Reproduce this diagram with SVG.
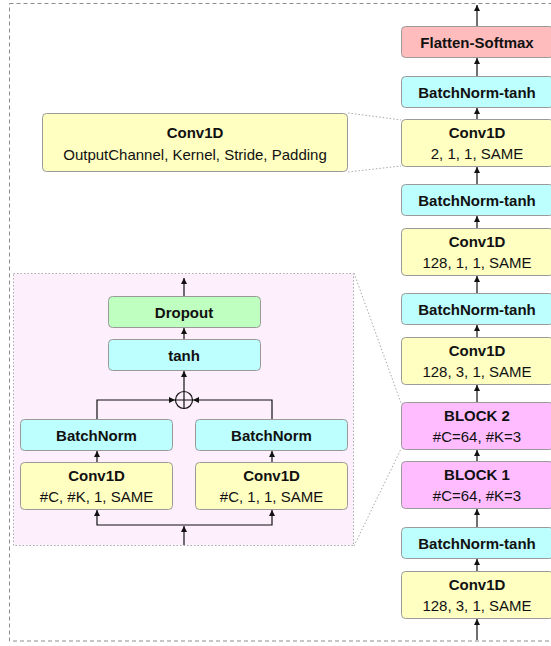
<svg xmlns="http://www.w3.org/2000/svg" width="551" height="646" viewBox="0 0 551 646">
  <style>
    .box { stroke: #9a9a9a; stroke-width: 1; }
    .conv { fill: #ffffc2; }
    .bn { fill: #bdffff; }
    .soft { fill: #ffbcbc; }
    .blk { fill: #ffbcff; }
    .drop { fill: #bfffbf; }
    .t { font-family: "Liberation Sans", Arial, sans-serif; font-size: 15px; fill: #111; text-anchor: middle; }
    .b { font-weight: bold; }
    .edge { stroke: #111; stroke-width: 1.2; fill: none; }
    .guide { stroke: #a8a8a8; stroke-width: 1; stroke-dasharray: 1.5 2; fill: none; }
  </style>
  <defs>
    <marker id="arrow" markerUnits="userSpaceOnUse" markerWidth="7" markerHeight="7" refX="6" refY="3" orient="auto">
      <path d="M0,0 L6,3 L0,6 z" fill="#111"/>
    </marker>
  </defs>

  <!-- outer frame -->
  <rect x="9.5" y="3.5" width="560" height="637.5" fill="none" stroke="#8c8c8c" stroke-width="1" stroke-dasharray="4 3"/>

  <!-- expanded block panel -->
  <g id="block-panel">
    <rect x="13.5" y="273.5" width="340" height="272" fill="#fdf0fc" stroke="#aaaaaa" stroke-width="1" stroke-dasharray="1.5 2"/>
  </g>

  <!-- guide lines from detail views to the main column -->
  <g id="guides">
    <path class="guide" d="M348,113 L401,120"/>
    <path class="guide" d="M348,172 L401,166"/>
    <path class="guide" d="M354,273 L401,403"/>
    <path class="guide" d="M354,546 L401,449"/>
  </g>

  <!-- main column -->
  <g id="flatten-softmax">
    <rect class="box soft" x="401.5" y="26.5" width="152" height="31" rx="4"/>
    <text class="t b" x="477" y="47.5">Flatten-Softmax</text>
  </g>
  <g id="bn-tanh-4">
    <rect class="box bn" x="401.5" y="76.5" width="152" height="31" rx="4"/>
    <text class="t b" x="477" y="97.5">BatchNorm-tanh</text>
  </g>
  <g id="conv-4">
    <rect class="box conv" x="401.5" y="119.5" width="152" height="47" rx="4"/>
    <text class="t b" x="477" y="138">Conv1D</text>
    <text class="t" x="477" y="159">2, 1, 1, SAME</text>
  </g>
  <g id="bn-tanh-3">
    <rect class="box bn" x="401.5" y="184.5" width="152" height="31" rx="4"/>
    <text class="t b" x="477" y="205.5">BatchNorm-tanh</text>
  </g>
  <g id="conv-3">
    <rect class="box conv" x="401.5" y="228.5" width="152" height="47" rx="4"/>
    <text class="t b" x="477" y="247">Conv1D</text>
    <text class="t" x="477" y="268">128, 1, 1, SAME</text>
  </g>
  <g id="bn-tanh-2">
    <rect class="box bn" x="401.5" y="293.5" width="152" height="31" rx="4"/>
    <text class="t b" x="477" y="314.5">BatchNorm-tanh</text>
  </g>
  <g id="conv-2">
    <rect class="box conv" x="401.5" y="337.5" width="152" height="47" rx="4"/>
    <text class="t b" x="477" y="356">Conv1D</text>
    <text class="t" x="477" y="377">128, 3, 1, SAME</text>
  </g>
  <g id="block-2">
    <rect class="box blk" x="401.5" y="402.5" width="152" height="47" rx="4"/>
    <text class="t b" x="477" y="421">BLOCK 2</text>
    <text class="t" x="477" y="442">#C=64, #K=3</text>
  </g>
  <g id="block-1">
    <rect class="box blk" x="401.5" y="461.5" width="152" height="47" rx="4"/>
    <text class="t b" x="477" y="480">BLOCK 1</text>
    <text class="t" x="477" y="501">#C=64, #K=3</text>
  </g>
  <g id="bn-tanh-1">
    <rect class="box bn" x="401.5" y="527.5" width="152" height="31" rx="4"/>
    <text class="t b" x="477" y="548.5">BatchNorm-tanh</text>
  </g>
  <g id="conv-1">
    <rect class="box conv" x="401.5" y="571.5" width="152" height="47" rx="4"/>
    <text class="t b" x="477" y="590">Conv1D</text>
    <text class="t" x="477" y="611">128, 3, 1, SAME</text>
  </g>

  <!-- legend for Conv1D parameters -->
  <g id="conv-legend">
    <rect class="box conv" x="42.5" y="113.5" width="305" height="58" rx="4"/>
    <text class="t b" x="195" y="137.5">Conv1D</text>
    <text class="t" x="195" y="160">OutputChannel, Kernel, Stride, Padding</text>
  </g>

  <!-- block internals -->
  <g id="dropout">
    <rect class="box drop" x="108.5" y="296.5" width="152" height="31" rx="4"/>
    <text class="t b" x="184" y="317.5">Dropout</text>
  </g>
  <g id="tanh">
    <rect class="box bn" x="108.5" y="339.5" width="152" height="31" rx="4"/>
    <text class="t b" x="184" y="360.5">tanh</text>
  </g>
  <g id="sum">
    <circle cx="184" cy="400" r="8.5" fill="none" stroke="#111" stroke-width="1.2"/>
    <path d="M184,391.5 V408.5 M175.5,400 H192.5" stroke="#111" stroke-width="1.2"/>
  </g>
  <g id="bn-left">
    <rect class="box bn" x="20.5" y="419.5" width="152" height="31" rx="4"/>
    <text class="t b" x="96.5" y="440.5">BatchNorm</text>
  </g>
  <g id="bn-right">
    <rect class="box bn" x="195.5" y="419.5" width="152" height="31" rx="4"/>
    <text class="t b" x="271.5" y="440.5">BatchNorm</text>
  </g>
  <g id="conv-left">
    <rect class="box conv" x="20.5" y="462.5" width="152" height="47" rx="4"/>
    <text class="t b" x="96.5" y="481">Conv1D</text>
    <text class="t" x="96.5" y="502">#C, #K, 1, SAME</text>
  </g>
  <g id="conv-right">
    <rect class="box conv" x="195.5" y="462.5" width="152" height="47" rx="4"/>
    <text class="t b" x="271.5" y="481">Conv1D</text>
    <text class="t" x="271.5" y="502">#C, 1, 1, SAME</text>
  </g>

  <!-- connectors -->
  <g id="connectors">
    <!-- main column -->
    <path class="edge" marker-end="url(#arrow)" d="M477,26 V5"/>
    <path class="edge" marker-end="url(#arrow)" d="M477,76 V58"/>
    <path class="edge" marker-end="url(#arrow)" d="M477,119 V108"/>
    <path class="edge" marker-end="url(#arrow)" d="M477,184 V167"/>
    <path class="edge" marker-end="url(#arrow)" d="M477,228 V216"/>
    <path class="edge" marker-end="url(#arrow)" d="M477,293 V276"/>
    <path class="edge" marker-end="url(#arrow)" d="M477,337 V325"/>
    <path class="edge" marker-end="url(#arrow)" d="M477,402 V385"/>
    <path class="edge" marker-end="url(#arrow)" d="M477,461 V450"/>
    <path class="edge" marker-end="url(#arrow)" d="M477,527 V509"/>
    <path class="edge" marker-end="url(#arrow)" d="M477,571 V559"/>
    <path class="edge" marker-end="url(#arrow)" d="M477,640 V619"/>
    <!-- block internals -->
    <path class="edge" marker-end="url(#arrow)" d="M184,296 V278"/>
    <path class="edge" marker-end="url(#arrow)" d="M184,339 V328"/>
    <path class="edge" marker-end="url(#arrow)" d="M184,391 V371"/>
    <path class="edge" marker-end="url(#arrow)" d="M97,419 V400 H175"/>
    <path class="edge" marker-end="url(#arrow)" d="M272,419 V400 H193"/>
    <path class="edge" marker-end="url(#arrow)" d="M97,462 V451"/>
    <path class="edge" marker-end="url(#arrow)" d="M272,462 V451"/>
    <path class="edge" marker-end="url(#arrow)" d="M184,545 V526"/>
    <path class="edge" marker-end="url(#arrow)" d="M184,525 H97 V510"/>
    <path class="edge" marker-end="url(#arrow)" d="M184,525 H272 V510"/>
  </g>
</svg>
